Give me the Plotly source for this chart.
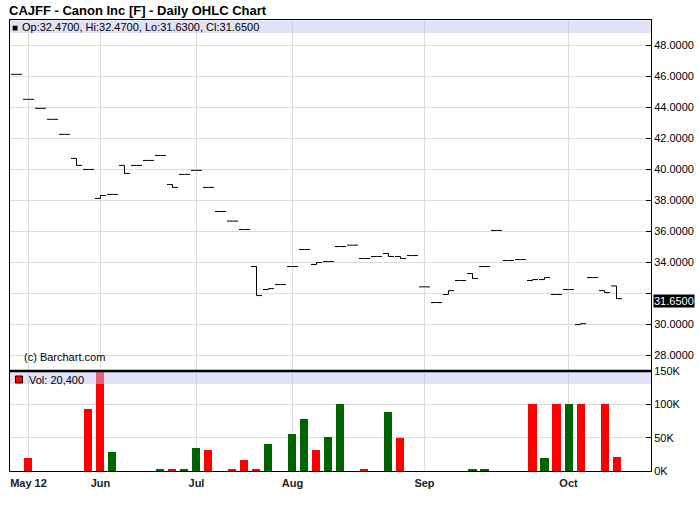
import plotly.graph_objects as go

# ---------------- data ----------------
bar_no = list(range(51))
opens = [46.11, 44.50, 43.92, 43.21, 42.24, 40.69, 39.98, 38.11, 38.37, 40.24,
         40.24, 40.56, 40.88, 39.01, 39.66, 39.92, 38.82, 37.27, 36.65, 36.11,
         33.72, 32.24, 32.56, 33.72, 34.82, 33.85, 34.04, 35.01, 35.10, 34.24,
         34.37, 34.56, 34.37, 34.43, 32.41, 31.40, 31.92, 32.82, 33.27, 33.72,
         36.05, 34.11, 34.17, 32.82, 32.88, 31.92, 32.24, 29.98, 33.01, 32.17,
         32.47]
closes = [46.11, 44.50, 43.92, 43.21, 42.24, 40.24, 39.98, 38.30, 38.37, 39.72,
          40.24, 40.56, 40.88, 38.82, 39.66, 39.92, 38.82, 37.27, 36.65, 36.11,
          31.85, 32.30, 32.56, 33.72, 34.82, 33.98, 34.04, 35.01, 35.10, 34.24,
          34.37, 34.37, 34.24, 34.43, 32.41, 31.40, 32.17, 32.82, 32.95, 33.72,
          36.05, 34.11, 34.17, 32.88, 33.01, 31.92, 32.24, 30.04, 33.01, 32.05,
          31.65]
highs = [max(o, c) for o, c in zip(opens, closes)]
lows = [min(o, c) for o, c in zip(opens, closes)]
lows[50] = 31.63

volumes = [0, 20000, 0, 0, 0, 0, 93500, 160000, 29000, 0,
           0, 0, 2000, 3500, 3500, 35000, 32000, 0, 3500, 17000,
           2000, 41000, 0, 56000, 78000, 32000, 51000, 100000, 0, 2000,
           0, 88500, 50000, 0, 0, 0, 0, 0, 2000, 2000,
           0, 0, 0, 100000, 20000, 100000, 100000, 100000, 0, 100000,
           20400]
vol_dir = ["d", "d", "d", "d", "d", "d", "d", "d", "u", "d",
           "d", "d", "u", "d", "u", "u", "d", "d", "d", "d",
           "d", "u", "d", "u", "u", "d", "u", "u", "d", "d",
           "d", "u", "d", "d", "d", "d", "d", "d", "u", "u",
           "d", "d", "d", "d", "u", "d", "u", "d", "d", "d",
           "d"]

month_ticks = [1, 7, 15, 23, 34, 46]
month_labels = ["May 12", "Jun", "Jul", "Aug", "Sep", "Oct"]

price_ticks = [28, 30, 32, 34, 36, 38, 40, 42, 44, 46, 48]
price_labels = ["28.0000", "30.0000", "", "34.0000", "36.0000", "38.0000",
                "40.0000", "42.0000", "44.0000", "46.0000", "48.0000"]
vol_ticks = [0, 50000, 100000, 150000]
vol_labels = ["0K", "50K", "100K", "150K"]

title_text = "CAJFF - Canon Inc [F] - Daily OHLC Chart"
ohlc_text = "Op:32.4700, Hi:32.4700, Lo:31.6300, Cl:31.6500"
vol_text = "Vol: 20,400"
last_text = "31.6500"
last_price = 31.65

# ---------------- layout geometry ----------------
W, H = 700, 512
ML, MR, MT, MB = 10, 49, 20, 41
PW = W - ML - MR
PH = H - MT - MB


def py(px):  # pixel y -> paper y
    return (H - MB - px) / PH


def pxx(px):  # pixel x -> paper x
    return (px - ML) / PW


FONT = "Liberation Sans, Arial, sans-serif"
GRID = "#dcdcdc"
RED = "#ff0000"
GREEN = "#006400"

fig = go.Figure()
fig.add_trace(go.Ohlc(
    x=bar_no, open=opens, high=highs, low=lows, close=closes,
    increasing=dict(line=dict(color="black", width=1)),
    decreasing=dict(line=dict(color="black", width=1)),
    tickwidth=0.46, xaxis="x", yaxis="y", showlegend=False, hoverinfo="skip"))

fig.add_trace(go.Bar(
    x=bar_no, y=volumes,
    marker=dict(color=[GREEN if d == "u" else RED for d in vol_dir], line=dict(width=0)),
    width=0.667, xaxis="x2", yaxis="y2", showlegend=False, hoverinfo="skip"))

xr = [-0.54, 52.875]
fig.update_layout(
    width=W, height=H,
    margin=dict(l=ML, r=MR, t=MT, b=MB, pad=0, autoexpand=False),
    paper_bgcolor="white", plot_bgcolor="white",
    font=dict(family=FONT, size=11, color="black"),
    showlegend=False,
    bargap=0,
    xaxis=dict(domain=[0, 1], range=xr, anchor="y", tickvals=month_ticks,
               showticklabels=False, showgrid=True, gridcolor=GRID, gridwidth=1,
               zeroline=False, showline=True, linecolor="black", linewidth=1,
               mirror=True, ticks="", rangeslider=dict(visible=False), fixedrange=True,
               automargin=False),
    yaxis=dict(domain=[py(370), 1], range=[27.053, 49.611], side="right", anchor="x",
               tickvals=price_ticks, ticktext=price_labels, automargin=False,
               showgrid=True, gridcolor=GRID, gridwidth=1, zeroline=False,
               showline=True, linecolor="black", linewidth=1, mirror=True,
               ticks="inside", ticklen=5, tickcolor="black",
               tickfont=dict(family=FONT, size=11, color="black")),
    xaxis2=dict(domain=[0, 1], range=xr, anchor="y2", tickvals=month_ticks,
                ticktext=month_labels, showgrid=True, gridcolor=GRID, gridwidth=1,
                zeroline=False, showline=True, linecolor="black", linewidth=1,
                mirror=True, ticks="", ticklabelstandoff=2, automargin=False,
                tickfont=dict(family=FONT, size=11, color="#222222", weight="bold")),
    yaxis2=dict(domain=[0, py(371)], range=[0, 150000], side="right", anchor="x2",
                tickvals=vol_ticks, ticktext=vol_labels, automargin=False,
                showgrid=True, gridcolor=GRID, gridwidth=1, zeroline=False,
                showline=True, linecolor="black", linewidth=1, mirror=True,
                ticks="inside", ticklen=5, tickcolor="black",
                tickfont=dict(family=FONT, size=11, color="black")),
)

shapes = [
    # lavender header bands
    dict(type="rect", xref="paper", yref="paper", x0=0, x1=1, y0=py(33), y1=py(20.5),
         fillcolor="rgba(196,196,241,0.5)", line=dict(width=0), layer="above"),
    dict(type="rect", xref="paper", yref="paper", x0=0, x1=1, y0=py(384), y1=py(372),
         fillcolor="rgba(196,196,241,0.5)", line=dict(width=0), layer="above"),
    # thick separator between panels
    dict(type="line", xref="paper", yref="paper", x0=0, x1=1, y0=py(371), y1=py(371),
         line=dict(color="black", width=2.5), layer="above"),
    # legend squares
    dict(type="rect", xref="paper", yref="paper", x0=pxx(12.7), x1=pxx(17.5),
         y0=py(30.5), y1=py(25.7), fillcolor="black", line=dict(width=0), layer="above"),
    dict(type="rect", xref="paper", yref="paper", x0=pxx(15.5), x1=pxx(22.5),
         y0=py(383), y1=py(376), fillcolor=RED, line=dict(color="black", width=1),
         layer="above"),
]
fig.update_layout(shapes=shapes)

annotations = [
    dict(text="<b>" + title_text + "</b>", xref="paper", yref="paper", x=pxx(7), y=py(10.5),
         xanchor="left", yanchor="middle", showarrow=False,
         font=dict(family=FONT, size=13, color="black")),
    dict(text=ohlc_text, xref="paper", yref="paper", x=pxx(19.5), y=py(27.5),
         xanchor="left", yanchor="middle", showarrow=False,
         font=dict(family=FONT, size=11, color="black")),
    dict(text=vol_text, xref="paper", yref="paper", x=pxx(26.5), y=py(379.5),
         xanchor="left", yanchor="middle", showarrow=False,
         font=dict(family=FONT, size=11, color="black")),
    dict(text="(c) Barchart.com", xref="paper", yref="paper", x=pxx(21.5), y=py(357),
         xanchor="left", yanchor="middle", showarrow=False,
         font=dict(family=FONT, size=11, color="black")),
    dict(text=last_text, xref="paper", yref="y", x=pxx(653), y=last_price, yshift=-2,
         xanchor="left", yanchor="middle", showarrow=False, bgcolor="black",
         borderpad=0, font=dict(family=FONT, size=11, color="white")),
]
fig.update_layout(annotations=annotations)

fig.write_html("out.html", config={"displayModeBar": False},
               post_script="document.body.style.margin='0';document.body.style.overflow='hidden';")
